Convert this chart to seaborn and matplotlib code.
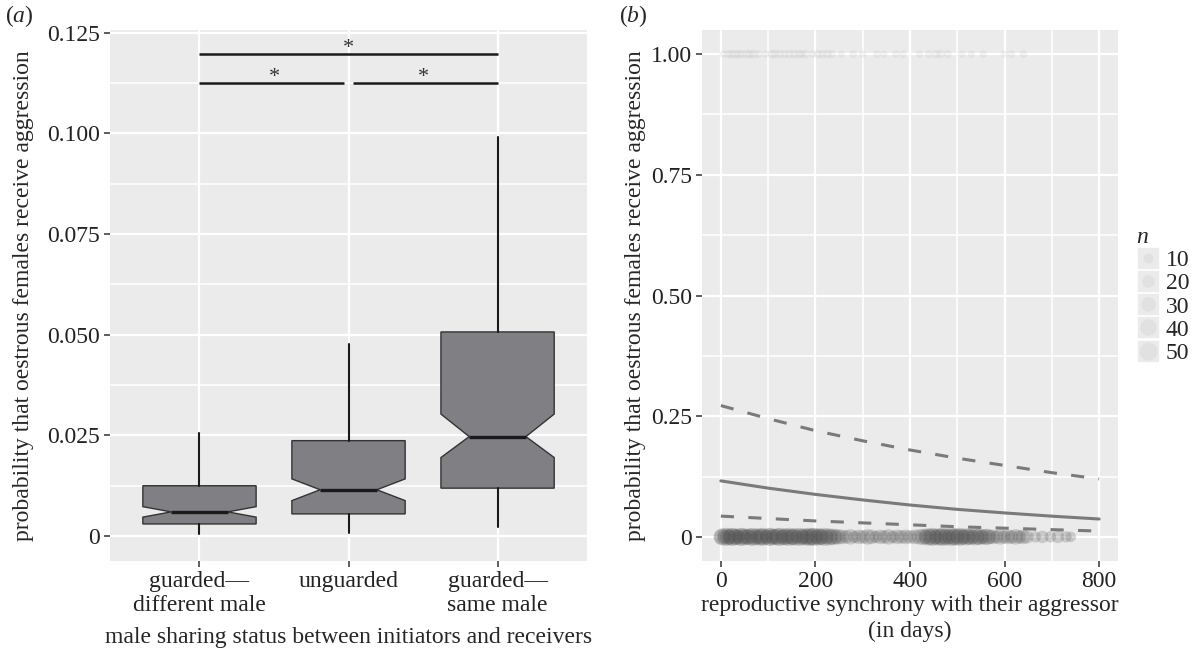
import numpy as np
import pandas as pd
import seaborn as sns
import matplotlib
matplotlib.use("Agg")
import matplotlib.pyplot as plt
from matplotlib.lines import Line2D
from matplotlib.legend_handler import HandlerTuple

# ---- panel (a): notched box summaries ----
groups = ["guarded\u2014\ndifferent male", "unguarded", "guarded\u2014\nsame male"]
whislo = [0.0005, 0.0008, 0.0022]
q1 = [0.0030, 0.0055, 0.0119]
med = [0.0060, 0.0115, 0.0247]
q3 = [0.0125, 0.0237, 0.0507]
whishi = [0.0256, 0.0476, 0.0990]
cilo = [0.0047, 0.0088, 0.0195]
cihi = [0.0073, 0.0142, 0.0303]
a_yticks = [0, 0.025, 0.050, 0.075, 0.100, 0.125]
a_yticklabels = ["0", "0.025", "0.050", "0.075", "0.100", "0.125"]
# significance brackets: from group, to group, level
sig_from = [0, 0, 1]
sig_to = [2, 1, 2]
sig_level = [0.1198, 0.1126, 0.1126]

# ---- panel (b): observations at 0 / 1 and fitted curve ----
x_zero = [1, 4, 8, 11, 15, 19, 22, 26, 30, 33, 37, 41, 45, 48, 52, 57, 61, 64, 68, 72,
          77, 81, 85, 88, 92, 97, 101, 105, 108, 112, 117, 121, 125, 129, 133, 137, 141,
          145, 149, 153, 157, 161, 166, 170, 174, 178, 182, 186, 190, 194, 198, 202, 206,
          210, 214, 219, 223, 228, 233, 238, 243, 248,
          256, 265, 274, 283, 292, 301, 310, 319, 328, 337, 346, 355, 364, 373, 382, 391,
          400, 410, 420,
          428, 433, 438, 442, 447, 451, 456, 460, 465, 469, 474, 478, 483, 487, 492, 496,
          501, 505, 510, 514, 519, 523, 528, 533, 538, 543, 548, 553, 558, 563, 568,
          575, 583, 591, 599, 607, 615, 623, 631, 639, 647,
          665, 680, 697, 713, 730, 740]
n_zero = [35, 45, 25, 50, 40, 30, 45, 50, 35, 40, 25, 45, 50, 30, 40, 35, 45, 25, 50, 40,
          30, 45, 35, 50, 40, 25, 45, 50, 30, 40, 35, 45, 50, 25, 40, 45, 30,
          50, 35, 40, 45, 25, 50, 40, 30, 45, 35, 50, 40, 45, 50, 30, 45,
          40, 35, 50, 30, 45, 35, 40, 30, 35,
          30, 25, 35, 20, 30, 25, 35, 30, 20, 30, 25, 35, 20, 30, 25, 30,
          25, 30, 35,
          40, 30, 45, 35, 50, 40, 30, 45, 40, 50, 35, 45, 30, 50, 40, 45,
          35, 50, 40, 30, 45, 35, 40, 30, 45, 35, 40, 30, 35, 40, 30,
          30, 25, 35, 25, 30, 25, 35, 25, 30, 25,
          15, 20, 15, 20, 15, 12]
x_one = [5, 15, 22, 30, 38, 45, 55, 62, 70, 80, 95, 108, 115, 125, 135, 145, 155, 165, 172,
         180, 195, 205, 215, 225, 235, 255, 280, 300, 330, 345, 370, 385, 420, 440, 455,
         465, 480, 510, 530, 555, 600, 615, 640]
n_one = [2, 4, 5, 6, 5, 4, 6, 5, 6, 3, 2, 5, 6, 5, 4, 6, 5, 6, 4,
         5, 3, 6, 5, 6, 4, 2, 3, 2, 3, 2, 2, 3, 2, 4, 5,
         5, 4, 2, 2, 3, 2, 2, 3]
curve_x = [0, 100, 200, 300, 400, 500, 600, 700, 800]
fit = [0.116, 0.101, 0.088, 0.0765, 0.066, 0.057, 0.0496, 0.0429, 0.037]
upper = [0.272, 0.245, 0.220, 0.199, 0.180, 0.163, 0.148, 0.133, 0.120]
lower = [0.043, 0.038, 0.033, 0.029, 0.025, 0.021, 0.018, 0.015, 0.012]
legend_n = [10, 20, 30, 40, 50]

FONT = "Liberation Serif"
FS = 17
PANEL_BG = "#EBEBEB"
POINT = "#4d4d4d"
LINE = "#7a7a7a"

sns.set_theme(style="darkgrid", rc={
    "axes.facecolor": PANEL_BG,
    "grid.color": "white",
    "axes.edgecolor": PANEL_BG,
})
plt.rcParams["font.family"] = [FONT, "DejaVu Serif"]
plt.rcParams["mathtext.fontset"] = "custom"
plt.rcParams["mathtext.it"] = FONT + ":italic"
plt.rcParams["mathtext.rm"] = FONT


def style_axis(ax):
    for s in ax.spines.values():
        s.set_visible(False)
    ax.set_axisbelow(True)
    ax.grid(which="major", color="white", linewidth=1.6)
    ax.grid(which="minor", color="white", linewidth=1.1)
    ax.tick_params(which="major", axis="both", direction="out", length=4, width=1.1,
                   color="#333333", labelsize=FS, labelcolor="#222222", pad=3,
                   bottom=True, left=True)
    ax.tick_params(which="minor", length=0)


fig = plt.figure(figsize=(11.95, 6.55), dpi=100)
ax1 = fig.add_axes([0.0921, 0.1435, 0.3991, 0.8107])
ax2 = fig.add_axes([0.5874, 0.1435, 0.3482, 0.8107])

# ---- (a) ----
stats = []
for i, g in enumerate(groups):
    stats.append(dict(label=g, whislo=whislo[i], q1=q1[i], med=med[i], q3=q3[i],
                      whishi=whishi[i], cilo=cilo[i], cihi=cihi[i], fliers=[]))
ax1.bxp(stats, positions=range(len(groups)), widths=0.76, shownotches=True, patch_artist=True,
        showcaps=False,
        boxprops=dict(facecolor="#808084", edgecolor="#333333", linewidth=1.0),
        medianprops=dict(color="#1a1a1a", linewidth=2.4, solid_capstyle="butt"),
        whiskerprops=dict(color="#1a1a1a", linewidth=1.5))
ax1.set_xlim(-0.6, len(groups) - 0.4)
ax1.set_ylim(-0.0062, 0.1257)
ax1.set_yticks(a_yticks)
ax1.set_yticklabels(a_yticklabels)
ax1.set_yticks([t + 0.0125 for t in a_yticks[:-1]], minor=True)
ax1.set_xticks(range(len(groups)))
ax1.set_xticklabels(groups, linespacing=1.2)
style_axis(ax1)
for f, t, lev in zip(sig_from, sig_to, sig_level):
    gap = 0.03 if abs(t - f) == 1 else 0
    ax1.plot([f + (gap if f > 0 else 0), t - (gap if t < 2 else 0)], [lev, lev],
             color="#1a1a1a", lw=1.8, solid_capstyle="butt")
    ax1.text((f + t) / 2, lev - 0.001, "*", ha="center", va="bottom",
             fontsize=FS - 1, color="#333333")
ax1.set_xlabel("male sharing status between initiators and receivers", fontsize=FS,
               labelpad=8)
ax1.set_ylabel("probability that oestrous females receive aggression", fontsize=FS,
               labelpad=10)

# ---- (b) ----
pts0 = pd.DataFrame({"x": x_zero, "y": 0.0, "n": n_zero})
pts1 = pd.DataFrame({"x": x_one, "y": 1.0, "n": n_one})
size_kw = dict(size="n", sizes=(26, 170), size_norm=(1, 50), legend=False,
               color=POINT, linewidth=0)
sns.scatterplot(data=pts0, x="x", y="y", alpha=0.22, ax=ax2, **size_kw)
sns.scatterplot(data=pts1, x="x", y="y", alpha=0.06, ax=ax2, **size_kw)
sns.lineplot(x=curve_x, y=fit, ax=ax2, color=LINE, lw=2.2)
sns.lineplot(x=curve_x, y=upper, ax=ax2, color=LINE, lw=2.2, linestyle=(0, (4.3, 4.7)))
sns.lineplot(x=curve_x, y=lower, ax=ax2, color=LINE, lw=2.2, linestyle=(0, (4.3, 4.7)))
ax2.set_xlim(-40, 840)
ax2.set_ylim(-0.05, 1.05)
ax2.set_xticks([0, 200, 400, 600, 800])
ax2.set_xticks([100, 300, 500, 700], minor=True)
ax2.set_yticks([0, 0.25, 0.5, 0.75, 1.0])
ax2.set_yticklabels(["0", "0.25", "0.50", "0.75", "1.00"])
ax2.set_yticks([0.125, 0.375, 0.625, 0.875], minor=True)
style_axis(ax2)
ax2.set_xlabel("reproductive synchrony with their aggressor\n(in days)", fontsize=FS,
               labelpad=2, linespacing=1.35)
ax2.set_ylabel("probability that oestrous females receive aggression", fontsize=FS,
               labelpad=4)

# size legend in ggplot style
handles = []
for n in legend_n:
    ms = np.sqrt(26 + (170 - 26) * (n - 1) / 49)
    handles.append((Line2D([], [], marker="s", markersize=15, color=PANEL_BG, linestyle=""),
                    Line2D([], [], marker="o", markersize=ms, color=POINT, alpha=0.06,
                           markeredgewidth=0, linestyle="")))
leg = fig.legend(handles, [str(n) for n in legend_n], handler_map={tuple: HandlerTuple(ndivide=1)},
                 loc="upper left", bbox_to_anchor=(1136 / 1195, 1 - 227 / 655),
                 frameon=False, fontsize=FS, title="n", alignment="left",
                 title_fontproperties=dict(family=FONT, style="italic", size=FS),
                 labelspacing=0.07, handlelength=1.0, handletextpad=0.25, borderpad=0,
                 borderaxespad=0)

fig.text(0.004, 0.995, r"($\mathit{a}$)", fontsize=FS, va="top", ha="left")
fig.text(0.518, 0.995, r"($\mathit{b}$)", fontsize=FS, va="top", ha="left")

fig.savefig("out.png", dpi=100)
